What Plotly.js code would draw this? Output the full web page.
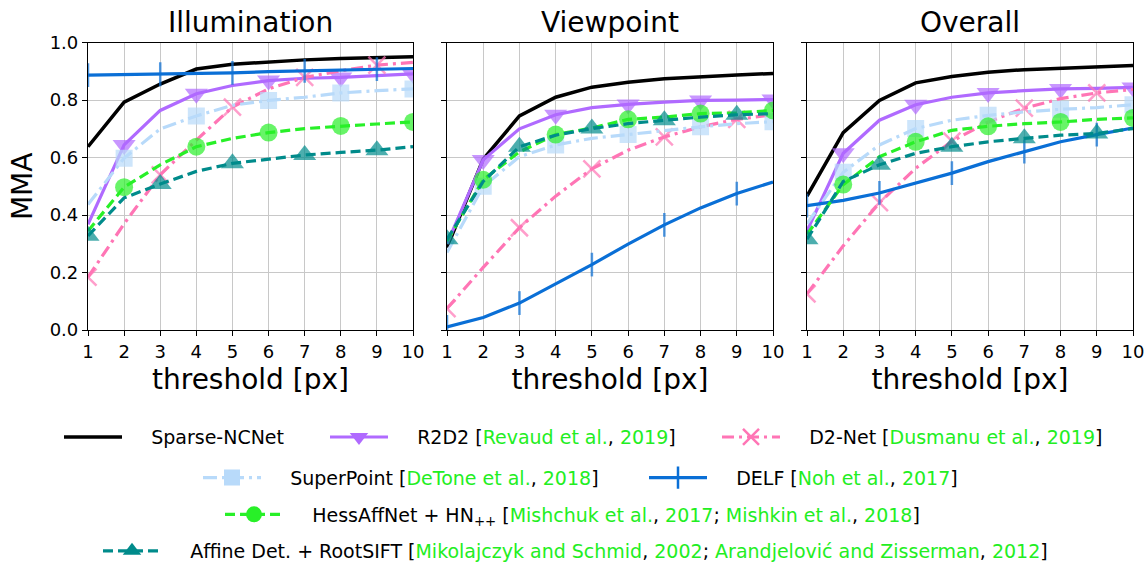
<!DOCTYPE html>
<html>
<head>
<meta charset="utf-8">
<script src="https://cdn.plot.ly/plotly-3.0.1.min.js"></script>
<style>html,body{margin:0;padding:0;background:#fff;}#chart{width:1148px;height:570px;}</style>
</head>
<body>
<div id="chart"></div>
<script>
// ---- data ----
const thresholds = [1, 2, 3, 4, 5, 6, 7, 8, 9, 10];
const panelTitles = ["Illumination", "Viewpoint", "Overall"];
const yTickVals = [0, 0.2, 0.4, 0.6, 0.8, 1.0];

const ncnet_ill = [0.638, 0.793, 0.856, 0.908, 0.925, 0.933, 0.940, 0.945, 0.947, 0.951];
const r2d2_ill  = [0.368, 0.644, 0.764, 0.822, 0.851, 0.868, 0.876, 0.879, 0.885, 0.891];
const d2net_ill = [0.184, 0.370, 0.540, 0.661, 0.776, 0.839, 0.879, 0.902, 0.922, 0.931];
const sp_ill    = [0.437, 0.598, 0.700, 0.745, 0.782, 0.799, 0.810, 0.825, 0.833, 0.839];
const delf_ill  = [0.887, 0.889, 0.890, 0.893, 0.895, 0.899, 0.902, 0.906, 0.908, 0.910];
const hess_ill  = [0.345, 0.497, 0.575, 0.638, 0.667, 0.687, 0.701, 0.710, 0.717, 0.724];
const aff_ill   = [0.328, 0.460, 0.508, 0.552, 0.580, 0.595, 0.609, 0.618, 0.626, 0.638];

const ncnet_vp = [0.287, 0.595, 0.745, 0.810, 0.845, 0.862, 0.874, 0.882, 0.887, 0.893];
const r2d2_vp  = [0.300, 0.592, 0.700, 0.749, 0.774, 0.785, 0.793, 0.799, 0.800, 0.802];
const d2net_vp = [0.075, 0.218, 0.356, 0.466, 0.561, 0.626, 0.672, 0.707, 0.733, 0.749];
const sp_vp    = [0.270, 0.500, 0.603, 0.644, 0.667, 0.680, 0.695, 0.707, 0.718, 0.725];
const delf_vp  = [0.011, 0.044, 0.094, 0.161, 0.228, 0.299, 0.366, 0.425, 0.475, 0.515];
const hess_vp  = [0.310, 0.523, 0.620, 0.680, 0.703, 0.733, 0.741, 0.753, 0.756, 0.764];
const aff_vp   = [0.316, 0.517, 0.638, 0.678, 0.701, 0.718, 0.730, 0.741, 0.749, 0.753];

const ncnet_all = [0.466, 0.687, 0.799, 0.860, 0.882, 0.897, 0.906, 0.911, 0.916, 0.920];
const r2d2_all  = [0.345, 0.615, 0.730, 0.784, 0.810, 0.825, 0.833, 0.839, 0.841, 0.844];
const d2net_all = [0.126, 0.293, 0.443, 0.563, 0.657, 0.724, 0.772, 0.805, 0.825, 0.837];
const sp_all    = [0.370, 0.549, 0.644, 0.701, 0.730, 0.747, 0.759, 0.768, 0.774, 0.784];
const delf_all  = [0.433, 0.451, 0.477, 0.511, 0.546, 0.586, 0.621, 0.655, 0.680, 0.703];
const hess_all  = [0.333, 0.506, 0.603, 0.655, 0.695, 0.709, 0.718, 0.724, 0.733, 0.738];
const aff_all   = [0.316, 0.517, 0.575, 0.615, 0.638, 0.655, 0.667, 0.678, 0.684, 0.701];

const G = '#22ee22';
const cite = s => '<span style="color:' + G + '">' + s + '</span>';
const methodNames = [
  "Sparse-NCNet",
  "R2D2 [" + cite("Revaud et al.") + ", " + cite("2019") + "]",
  "D2-Net [" + cite("Dusmanu et al.") + ", " + cite("2019") + "]",
  "SuperPoint [" + cite("DeTone et al.") + ", " + cite("2018") + "]",
  "DELF [" + cite("Noh et al.") + ", " + cite("2017") + "]",
  "HessAffNet + HN<sub>++</sub> [" + cite("Mishchuk et al.") + ", " + cite("2017") + "; " + cite("Mishkin et al.") + ", " + cite("2018") + "]",
  "Affine Det. + RootSIFT [" + cite("Mikolajczyk and Schmid") + ", " + cite("2002") + "; " + cite("Arandjelović and Zisserman") + ", " + cite("2012") + "]"
];
const panelData = [
  [ncnet_ill, r2d2_ill, d2net_ill, sp_ill, delf_ill, hess_ill, aff_ill],
  [ncnet_vp,  r2d2_vp,  d2net_vp,  sp_vp,  delf_vp,  hess_vp,  aff_vp],
  [ncnet_all, r2d2_all, d2net_all, sp_all, delf_all, hess_all, aff_all]
];

// ---- styles ----
const styles = [
  {color: '#000000', width: 3.5, dash: 'solid', symbol: null, phase: 0, msize: 0},
  {color: '#b06aff', width: 3.2, dash: 'solid', symbol: 'triangle-down', phase: 1, msize: 20},
  {color: '#ff75b5', width: 3.2, dash: '12px,5px,3px,5px', symbol: 'x-thin-open', phase: 0, msize: 17},
  {color: '#b8dafa', width: 3.2, dash: '14px,5px,3px,5px', symbol: 'square', phase: 1, msize: 17},
  {color: '#0a6fd6', width: 3.2, dash: 'solid', symbol: 'line-ns-open', phase: 0, msize: 17},
  {color: '#28f028', width: 3.2, dash: '10px,5px', symbol: 'circle', phase: 1, msize: 18},
  {color: '#008b8b', width: 3.2, dash: '10px,5px', symbol: 'triangle-up', phase: 0, msize: 20}
];
// legend placement (left edge of sample, vertical centre) in px
const legendPos = [[62, 441], [328, 441], [720, 441], [201, 482], [647, 482], [223, 519], [101, 556]];

const FONT = 'DejaVu Sans, sans-serif';
const PAD = '\u00a0\u00a0\u00a0\u00a0';
const traces = [];
const markerFor = (st, size) => {
  const open = st.symbol.indexOf('open') >= 0;
  return {
    symbol: st.symbol, color: st.color, size: size,
    line: open ? {color: st.color, width: 2.5} : {width: 0}
  };
};
panelData.forEach((series, p) => {
  const ax = p === 0 ? '' : String(p + 1);
  series.forEach((vals, m) => {
    const st = styles[m];
    const t = {
      type: 'scatter',
      x: thresholds, y: vals,
      xaxis: 'x' + ax, yaxis: 'y' + ax,
      name: methodNames[m],
      legendgroup: 'm' + m,
      showlegend: false,
      hoverinfo: 'x+y',
      line: {color: st.color, width: st.width, dash: st.dash},
      mode: st.symbol ? 'lines+markers' : 'lines'
    };
    if (st.symbol) {
      t.marker = markerFor(st, thresholds.map((_, i) => (i % 2 === st.phase ? st.msize : 0)));
    }
    traces.push(t);
  });
});
// legend entries (no data points of their own)
styles.forEach((st, m) => {
  const t = {
    type: 'scatter', x: [null], y: [null],
    name: PAD + methodNames[m],
    legendgroup: 'm' + m,
    legend: m === 0 ? 'legend' : 'legend' + (m + 1),
    showlegend: true, hoverinfo: 'skip',
    line: {color: st.color, width: st.width, dash: st.dash},
    mode: st.symbol ? 'lines+markers' : 'lines'
  };
  if (st.symbol) t.marker = markerFor(st, Math.min(st.msize, 16));
  traces.push(t);
});

const xDomains = [[88 / 1148, 413 / 1148], [447 / 1148, 773 / 1148], [807 / 1148, 1133 / 1148]];
const yDomain = [(570 - 333) / 570, (570 - 43) / 570];

const layout = {
  width: 1148, height: 570,
  margin: {l: 0, r: 0, t: 0, b: 0},
  paper_bgcolor: '#ffffff', plot_bgcolor: '#ffffff',
  font: {family: FONT, color: '#000', size: 18},
  annotations: [],
  hovermode: 'closest'
};
legendPos.forEach((pos, m) => {
  const key = m === 0 ? 'legend' : 'legend' + (m + 1);
  layout[key] = {
    orientation: 'h', xanchor: 'left', yanchor: 'middle',
    x: (pos[0] - 3) / 1148, y: (570 - pos[1]) / 570,
    font: {family: FONT, size: 19, color: '#000'},
    itemsizing: 'trace', itemwidth: 58, bgcolor: 'rgba(0,0,0,0)', borderwidth: 0
  };
});

for (let p = 0; p < 3; p++) {
  const ax = p === 0 ? '' : String(p + 1);
  layout['xaxis' + ax] = {
    domain: xDomains[p], range: [1, 10],
    tickvals: thresholds, ticks: 'outside', ticklen: 5, tickcolor: '#000',
    showline: true, linecolor: '#000', linewidth: 1.2, mirror: true,
    showgrid: true, gridcolor: '#c8c8c8', gridwidth: 1, zeroline: false,
    tickfont: {size: 18, family: FONT},
    anchor: 'y' + ax,
    title: {text: 'threshold [px]', font: {size: 28, family: FONT}, standoff: 8}
  };
  layout['yaxis' + ax] = {
    domain: yDomain, range: [0, 1],
    tickvals: yTickVals, tickformat: '.1f', showticklabels: p === 0,
    ticks: 'outside', ticklen: 5, tickcolor: '#000',
    showline: true, linecolor: '#000', linewidth: 1.2, mirror: true,
    showgrid: true, gridcolor: '#c8c8c8', gridwidth: 1, zeroline: false,
    tickfont: {size: 18, family: FONT},
    anchor: 'x' + ax
  };
  if (p === 0) {
    layout.yaxis.title = {text: 'MMA', font: {size: 28, family: FONT}, standoff: 8};
  }
  layout.annotations.push({
    text: panelTitles[p], showarrow: false,
    xref: 'paper', yref: 'paper',
    x: (xDomains[p][0] + xDomains[p][1]) / 2, y: 1 - 23 / 570,
    xanchor: 'center', yanchor: 'middle',
    font: {size: 28, family: FONT}
  });
}

Plotly.newPlot('chart', traces, layout, {displayModeBar: false, responsive: false});
</script>
</body>
</html>
